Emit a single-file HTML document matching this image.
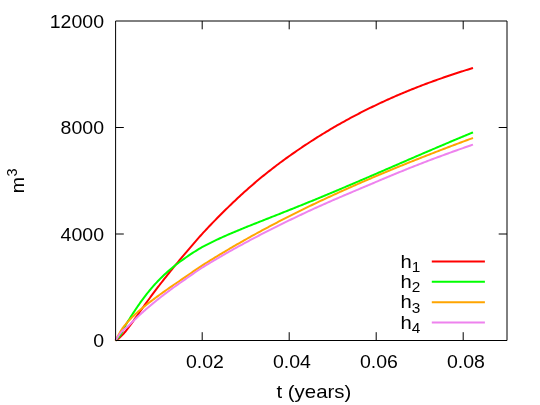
<!DOCTYPE html>
<html><head><meta charset="utf-8"><title>plot</title>
<style>
html,body{margin:0;padding:0;background:#fff;}
body{width:540px;height:405px;overflow:hidden;}
svg{display:block;}
text{font-family:"Liberation Sans",sans-serif;fill:#000;}
</style></head>
<body>
<svg width="540" height="405" viewBox="0 0 540 405">
<rect width="540" height="405" fill="#fff"/>
<g fill="none" stroke="#000" stroke-width="1">
<path d="M202.20,340.50 V332.20 M202.20,21.00 V29.30 M289.20,340.50 V332.20 M289.20,21.00 V29.30 M376.20,340.50 V332.20 M376.20,21.00 V29.30 M463.20,340.50 V332.20 M463.20,21.00 V29.30 M115.50,234.00 H123.80 M507.00,234.00 H498.70 M115.50,127.50 H123.80 M507.00,127.50 H498.70"/>
</g>
<g fill="none" stroke-width="2" stroke-linejoin="round" stroke-linecap="butt">
<path d="M115.50,340.50 L116.25,340.13 L117.00,339.68 L117.75,339.18 L118.50,338.61 L119.25,338.00 L120.00,337.34 L120.75,336.63 L121.50,335.89 L122.25,335.12 L123.00,334.31 L123.75,333.48 L124.50,332.61 L125.25,331.73 L126.00,330.82 L126.75,329.89 L127.50,328.93 L128.25,327.96 L129.00,326.97 L129.75,325.96 L130.50,324.94 L131.25,323.90 L132.00,322.86 L132.75,321.81 L133.50,320.76 L134.25,319.70 L135.00,318.64 L135.75,317.59 L136.50,316.53 L137.25,315.47 L138.00,314.41 L138.75,313.35 L139.50,312.29 L140.25,311.23 L141.00,310.18 L141.75,309.13 L142.50,308.07 L143.25,307.03 L144.00,305.98 L144.75,304.94 L145.50,303.90 L146.25,302.86 L147.00,301.83 L147.75,300.79 L148.50,299.77 L149.25,298.74 L150.00,297.72 L150.75,296.70 L151.50,295.69 L152.25,294.68 L153.00,293.67 L153.75,292.67 L154.50,291.67 L155.25,290.67 L156.00,289.68 L156.75,288.69 L157.50,287.70 L158.25,286.72 L159.00,285.74 L159.75,284.76 L160.00,284.44 L161.50,282.50 L163.00,280.57 L164.50,278.66 L166.00,276.76 L167.50,274.87 L169.00,273.00 L170.50,271.14 L172.00,269.29 L173.50,267.46 L175.00,265.63 L176.50,263.82 L178.00,262.02 L179.50,260.23 L181.00,258.45 L182.50,256.67 L184.00,254.89 L185.50,253.11 L187.00,251.33 L188.50,249.56 L190.00,247.79 L191.50,246.03 L193.00,244.28 L194.50,242.54 L196.00,240.81 L197.50,239.10 L199.00,237.40 L200.50,235.73 L202.00,234.07 L203.50,232.43 L205.00,230.82 L206.50,229.22 L208.00,227.63 L209.50,226.06 L211.00,224.49 L212.50,222.93 L214.00,221.38 L215.50,219.84 L217.00,218.31 L218.50,216.79 L220.00,215.28 L221.50,213.77 L223.00,212.28 L224.50,210.79 L226.00,209.32 L227.50,207.85 L229.00,206.39 L230.50,204.95 L232.00,203.51 L233.50,202.08 L235.00,200.66 L236.50,199.25 L238.00,197.85 L239.50,196.46 L241.00,195.08 L242.50,193.71 L244.00,192.35 L245.50,191.00 L247.00,189.66 L248.50,188.33 L250.00,187.01 L251.50,185.71 L253.00,184.41 L254.50,183.12 L256.00,181.85 L257.50,180.58 L259.00,179.33 L260.50,178.08 L262.00,176.85 L263.50,175.63 L265.00,174.41 L266.50,173.21 L268.00,172.02 L269.50,170.84 L271.00,169.67 L272.50,168.50 L274.00,167.35 L275.50,166.20 L277.00,165.07 L278.50,163.94 L280.00,162.82 L281.50,161.71 L283.00,160.61 L284.50,159.52 L286.00,158.43 L287.50,157.35 L289.00,156.28 L290.50,155.22 L292.00,154.16 L293.50,153.11 L295.00,152.07 L296.50,151.03 L298.00,150.00 L299.50,148.98 L301.00,147.96 L302.50,146.95 L304.00,145.95 L305.50,144.95 L307.00,143.96 L308.50,142.98 L310.00,142.00 L311.50,141.03 L313.00,140.07 L314.50,139.11 L316.00,138.16 L317.50,137.21 L319.00,136.27 L320.50,135.34 L322.00,134.41 L323.50,133.49 L325.00,132.58 L326.50,131.67 L328.00,130.77 L329.50,129.87 L331.00,128.98 L332.50,128.10 L334.00,127.23 L335.50,126.36 L337.00,125.49 L338.50,124.63 L340.00,123.78 L341.50,122.94 L343.00,122.10 L344.50,121.26 L346.00,120.43 L347.50,119.61 L349.00,118.80 L350.50,117.98 L352.00,117.18 L353.50,116.38 L355.00,115.59 L356.50,114.80 L358.00,114.02 L359.50,113.24 L361.00,112.47 L362.50,111.71 L364.00,110.95 L365.50,110.19 L367.00,109.44 L368.50,108.70 L370.00,107.96 L371.50,107.23 L373.00,106.50 L374.50,105.78 L376.00,105.06 L377.50,104.35 L379.00,103.64 L380.50,102.94 L382.00,102.24 L383.50,101.55 L385.00,100.87 L386.50,100.18 L388.00,99.51 L389.50,98.83 L391.00,98.17 L392.50,97.50 L394.00,96.84 L395.50,96.19 L397.00,95.54 L398.50,94.90 L400.00,94.26 L401.50,93.62 L403.00,92.99 L404.50,92.36 L406.00,91.74 L407.50,91.13 L409.00,90.51 L410.50,89.90 L412.00,89.30 L413.50,88.70 L415.00,88.10 L416.50,87.51 L418.00,86.92 L419.50,86.34 L421.00,85.76 L422.50,85.19 L424.00,84.62 L425.50,84.05 L427.00,83.49 L428.50,82.93 L430.00,82.37 L431.50,81.82 L433.00,81.27 L434.50,80.73 L436.00,80.19 L437.50,79.65 L439.00,79.12 L440.50,78.59 L442.00,78.07 L443.50,77.55 L445.00,77.03 L446.50,76.52 L448.00,76.01 L449.50,75.50 L451.00,75.00 L452.50,74.50 L454.00,74.00 L455.50,73.51 L457.00,73.02 L458.50,72.53 L460.00,72.05 L461.50,71.57 L463.00,71.10 L464.50,70.62 L466.00,70.16 L467.50,69.69 L469.00,69.23 L470.50,68.77 L472.00,68.31 L473.00,68.01" stroke="#ff0000"/>
<path d="M115.50,340.67 L116.25,339.75 L117.00,338.91 L117.75,338.14 L118.50,337.40 L119.25,336.62 L120.00,335.71 L120.75,334.59 L121.50,333.25 L122.25,331.75 L123.00,330.18 L123.75,328.64 L124.50,327.17 L125.25,325.79 L126.00,324.50 L126.75,323.26 L127.50,322.05 L128.25,320.86 L129.00,319.68 L129.75,318.49 L130.50,317.30 L131.25,316.12 L132.00,314.94 L132.75,313.78 L133.50,312.62 L134.25,311.48 L135.00,310.34 L135.75,309.21 L136.50,308.10 L137.25,306.99 L138.00,305.90 L138.75,304.82 L139.50,303.75 L140.25,302.69 L141.00,301.64 L141.75,300.61 L142.50,299.58 L143.25,298.57 L144.00,297.57 L144.75,296.58 L145.50,295.61 L146.25,294.64 L147.00,293.69 L147.75,292.75 L148.50,291.82 L149.25,290.90 L150.00,289.99 L150.75,289.10 L151.50,288.21 L152.25,287.34 L153.00,286.47 L153.75,285.62 L154.50,284.78 L155.25,283.95 L156.00,283.13 L156.75,282.32 L157.50,281.52 L158.25,280.73 L159.00,279.96 L159.75,279.19 L160.00,278.93 L161.50,277.43 L163.00,275.97 L164.50,274.54 L166.00,273.15 L167.50,271.79 L169.00,270.47 L170.50,269.18 L172.00,267.92 L173.50,266.69 L175.00,265.49 L176.50,264.32 L178.00,263.18 L179.50,262.06 L181.00,260.97 L182.50,259.89 L184.00,258.82 L185.50,257.76 L187.00,256.72 L188.50,255.69 L190.00,254.67 L191.50,253.67 L193.00,252.69 L194.50,251.73 L196.00,250.79 L197.50,249.87 L199.00,248.97 L200.50,248.09 L202.00,247.24 L203.50,246.41 L205.00,245.61 L206.50,244.83 L208.00,244.06 L209.50,243.31 L211.00,242.56 L212.50,241.82 L214.00,241.10 L215.50,240.38 L217.00,239.67 L218.50,238.97 L220.00,238.28 L221.50,237.60 L223.00,236.92 L224.50,236.25 L226.00,235.59 L227.50,234.93 L229.00,234.28 L230.50,233.64 L232.00,233.00 L233.50,232.36 L235.00,231.73 L236.50,231.10 L238.00,230.48 L239.50,229.85 L241.00,229.24 L242.50,228.62 L244.00,228.01 L245.50,227.40 L247.00,226.80 L248.50,226.19 L250.00,225.59 L251.50,224.99 L253.00,224.39 L254.50,223.79 L256.00,223.20 L257.50,222.60 L259.00,222.01 L260.50,221.41 L262.00,220.82 L263.50,220.23 L265.00,219.64 L266.50,219.05 L268.00,218.46 L269.50,217.86 L271.00,217.27 L272.50,216.68 L274.00,216.09 L275.50,215.50 L277.00,214.91 L278.50,214.31 L280.00,213.72 L281.50,213.13 L283.00,212.53 L284.50,211.94 L286.00,211.34 L287.50,210.75 L289.00,210.15 L290.50,209.55 L292.00,208.95 L293.50,208.35 L295.00,207.75 L296.50,207.15 L298.00,206.55 L299.50,205.94 L301.00,205.34 L302.50,204.73 L304.00,204.13 L305.50,203.52 L307.00,202.91 L308.50,202.30 L310.00,201.69 L311.50,201.07 L313.00,200.46 L314.50,199.84 L316.00,199.23 L317.50,198.61 L319.00,197.99 L320.50,197.37 L322.00,196.75 L323.50,196.13 L325.00,195.51 L326.50,194.88 L328.00,194.26 L329.50,193.63 L331.00,193.01 L332.50,192.38 L334.00,191.75 L335.50,191.12 L337.00,190.49 L338.50,189.86 L340.00,189.22 L341.50,188.59 L343.00,187.95 L344.50,187.32 L346.00,186.68 L347.50,186.04 L349.00,185.41 L350.50,184.77 L352.00,184.13 L353.50,183.49 L355.00,182.85 L356.50,182.20 L358.00,181.56 L359.50,180.92 L361.00,180.27 L362.50,179.63 L364.00,178.99 L365.50,178.34 L367.00,177.69 L368.50,177.05 L370.00,176.40 L371.50,175.75 L373.00,175.11 L374.50,174.46 L376.00,173.81 L377.50,173.16 L379.00,172.51 L380.50,171.86 L382.00,171.21 L383.50,170.56 L385.00,169.91 L386.50,169.26 L388.00,168.61 L389.50,167.96 L391.00,167.31 L392.50,166.66 L394.00,166.01 L395.50,165.36 L397.00,164.71 L398.50,164.06 L400.00,163.41 L401.50,162.76 L403.00,162.11 L404.50,161.46 L406.00,160.81 L407.50,160.16 L409.00,159.51 L410.50,158.87 L412.00,158.22 L413.50,157.57 L415.00,156.92 L416.50,156.27 L418.00,155.63 L419.50,154.98 L421.00,154.34 L422.50,153.69 L424.00,153.04 L425.50,152.40 L427.00,151.76 L428.50,151.11 L430.00,150.47 L431.50,149.83 L433.00,149.19 L434.50,148.55 L436.00,147.90 L437.50,147.27 L439.00,146.63 L440.50,145.99 L442.00,145.35 L443.50,144.71 L445.00,144.08 L446.50,143.44 L448.00,142.81 L449.50,142.18 L451.00,141.54 L452.50,140.91 L454.00,140.28 L455.50,139.65 L457.00,139.02 L458.50,138.40 L460.00,137.77 L461.50,137.14 L463.00,136.52 L464.50,135.89 L466.00,135.27 L467.50,134.65 L469.00,134.03 L470.50,133.41 L472.00,132.79 L473.00,132.38" stroke="#00ff00"/>
<path d="M115.50,340.62 L116.25,339.09 L117.00,337.68 L117.75,336.34 L118.50,335.02 L119.25,333.68 L120.00,332.34 L120.75,331.04 L121.50,329.82 L122.25,328.69 L123.00,327.63 L123.75,326.63 L124.50,325.68 L125.25,324.76 L126.00,323.87 L126.75,323.01 L127.50,322.16 L128.25,321.34 L129.00,320.53 L129.75,319.73 L130.50,318.94 L131.25,318.16 L132.00,317.40 L132.75,316.66 L133.50,315.92 L134.25,315.21 L135.00,314.50 L135.75,313.80 L136.50,313.12 L137.25,312.44 L138.00,311.78 L138.75,311.12 L139.50,310.47 L140.25,309.83 L141.00,309.19 L141.75,308.57 L142.50,307.94 L143.25,307.33 L144.00,306.72 L144.75,306.11 L145.50,305.51 L146.25,304.91 L147.00,304.32 L147.75,303.73 L148.50,303.14 L149.25,302.56 L150.00,301.98 L150.75,301.41 L151.50,300.84 L152.25,300.27 L153.00,299.70 L153.75,299.14 L154.50,298.58 L155.25,298.02 L156.00,297.47 L156.75,296.92 L157.50,296.36 L158.25,295.82 L159.00,295.27 L159.75,294.73 L160.00,294.54 L161.50,293.46 L163.00,292.39 L164.50,291.32 L166.00,290.26 L167.50,289.20 L169.00,288.15 L170.50,287.11 L172.00,286.07 L173.50,285.04 L175.00,284.01 L176.50,282.99 L178.00,281.97 L179.50,280.96 L181.00,279.95 L182.50,278.93 L184.00,277.90 L185.50,276.87 L187.00,275.83 L188.50,274.79 L190.00,273.75 L191.50,272.71 L193.00,271.67 L194.50,270.64 L196.00,269.61 L197.50,268.60 L199.00,267.59 L200.50,266.59 L202.00,265.61 L203.50,264.64 L205.00,263.69 L206.50,262.75 L208.00,261.82 L209.50,260.89 L211.00,259.96 L212.50,259.04 L214.00,258.11 L215.50,257.20 L217.00,256.28 L218.50,255.37 L220.00,254.47 L221.50,253.57 L223.00,252.67 L224.50,251.77 L226.00,250.88 L227.50,249.99 L229.00,249.11 L230.50,248.23 L232.00,247.35 L233.50,246.47 L235.00,245.60 L236.50,244.73 L238.00,243.87 L239.50,243.01 L241.00,242.15 L242.50,241.30 L244.00,240.44 L245.50,239.60 L247.00,238.75 L248.50,237.91 L250.00,237.07 L251.50,236.24 L253.00,235.41 L254.50,234.58 L256.00,233.75 L257.50,232.93 L259.00,232.11 L260.50,231.29 L262.00,230.48 L263.50,229.67 L265.00,228.86 L266.50,228.06 L268.00,227.26 L269.50,226.46 L271.00,225.67 L272.50,224.87 L274.00,224.08 L275.50,223.30 L277.00,222.51 L278.50,221.73 L280.00,220.96 L281.50,220.18 L283.00,219.41 L284.50,218.64 L286.00,217.87 L287.50,217.11 L289.00,216.35 L290.50,215.59 L292.00,214.83 L293.50,214.08 L295.00,213.33 L296.50,212.58 L298.00,211.84 L299.50,211.09 L301.00,210.35 L302.50,209.61 L304.00,208.88 L305.50,208.15 L307.00,207.42 L308.50,206.69 L310.00,205.96 L311.50,205.24 L313.00,204.52 L314.50,203.80 L316.00,203.08 L317.50,202.37 L319.00,201.66 L320.50,200.95 L322.00,200.24 L323.50,199.54 L325.00,198.83 L326.50,198.13 L328.00,197.44 L329.50,196.74 L331.00,196.05 L332.50,195.36 L334.00,194.67 L335.50,193.98 L337.00,193.29 L338.50,192.61 L340.00,191.93 L341.50,191.25 L343.00,190.57 L344.50,189.90 L346.00,189.23 L347.50,188.55 L349.00,187.88 L350.50,187.22 L352.00,186.55 L353.50,185.89 L355.00,185.23 L356.50,184.57 L358.00,183.91 L359.50,183.25 L361.00,182.60 L362.50,181.95 L364.00,181.30 L365.50,180.65 L367.00,180.00 L368.50,179.35 L370.00,178.71 L371.50,178.07 L373.00,177.43 L374.50,176.79 L376.00,176.15 L377.50,175.52 L379.00,174.89 L380.50,174.25 L382.00,173.62 L383.50,172.99 L385.00,172.37 L386.50,171.74 L388.00,171.12 L389.50,170.50 L391.00,169.87 L392.50,169.25 L394.00,168.64 L395.50,168.02 L397.00,167.41 L398.50,166.79 L400.00,166.18 L401.50,165.57 L403.00,164.96 L404.50,164.35 L406.00,163.75 L407.50,163.14 L409.00,162.54 L410.50,161.94 L412.00,161.34 L413.50,160.74 L415.00,160.14 L416.50,159.54 L418.00,158.95 L419.50,158.35 L421.00,157.76 L422.50,157.17 L424.00,156.58 L425.50,155.99 L427.00,155.40 L428.50,154.82 L430.00,154.23 L431.50,153.65 L433.00,153.06 L434.50,152.48 L436.00,151.90 L437.50,151.32 L439.00,150.75 L440.50,150.17 L442.00,149.59 L443.50,149.02 L445.00,148.45 L446.50,147.88 L448.00,147.30 L449.50,146.73 L451.00,146.17 L452.50,145.60 L454.00,145.03 L455.50,144.47 L457.00,143.90 L458.50,143.34 L460.00,142.78 L461.50,142.22 L463.00,141.66 L464.50,141.10 L466.00,140.54 L467.50,139.98 L469.00,139.43 L470.50,138.87 L472.00,138.32 L473.00,137.95" stroke="#ffa500"/>
<path d="M115.50,340.29 L116.25,339.16 L117.00,338.03 L117.75,336.90 L118.50,335.80 L119.25,334.72 L120.00,333.70 L120.75,332.74 L121.50,331.87 L122.25,331.08 L123.00,330.36 L123.75,329.71 L124.50,329.10 L125.25,328.50 L126.00,327.90 L126.75,327.27 L127.50,326.62 L128.25,325.95 L129.00,325.25 L129.75,324.52 L130.50,323.79 L131.25,323.04 L132.00,322.30 L132.75,321.56 L133.50,320.83 L134.25,320.10 L135.00,319.37 L135.75,318.66 L136.50,317.94 L137.25,317.24 L138.00,316.53 L138.75,315.84 L139.50,315.14 L140.25,314.46 L141.00,313.77 L141.75,313.09 L142.50,312.42 L143.25,311.75 L144.00,311.08 L144.75,310.42 L145.50,309.76 L146.25,309.11 L147.00,308.46 L147.75,307.81 L148.50,307.17 L149.25,306.53 L150.00,305.89 L150.75,305.26 L151.50,304.63 L152.25,304.01 L153.00,303.39 L153.75,302.77 L154.50,302.15 L155.25,301.54 L156.00,300.93 L156.75,300.33 L157.50,299.73 L158.25,299.13 L159.00,298.53 L159.75,297.94 L160.00,297.74 L161.50,296.57 L163.00,295.40 L164.50,294.25 L166.00,293.11 L167.50,291.98 L169.00,290.86 L170.50,289.75 L172.00,288.65 L173.50,287.56 L175.00,286.48 L176.50,285.41 L178.00,284.35 L179.50,283.30 L181.00,282.25 L182.50,281.20 L184.00,280.14 L185.50,279.08 L187.00,278.03 L188.50,276.97 L190.00,275.92 L191.50,274.87 L193.00,273.82 L194.50,272.79 L196.00,271.76 L197.50,270.74 L199.00,269.74 L200.50,268.75 L202.00,267.78 L203.50,266.82 L205.00,265.89 L206.50,264.96 L208.00,264.05 L209.50,263.14 L211.00,262.23 L212.50,261.33 L214.00,260.43 L215.50,259.54 L217.00,258.66 L218.50,257.78 L220.00,256.90 L221.50,256.03 L223.00,255.16 L224.50,254.30 L226.00,253.44 L227.50,252.59 L229.00,251.74 L230.50,250.89 L232.00,250.05 L233.50,249.21 L235.00,248.38 L236.50,247.55 L238.00,246.72 L239.50,245.90 L241.00,245.08 L242.50,244.27 L244.00,243.46 L245.50,242.65 L247.00,241.84 L248.50,241.04 L250.00,240.24 L251.50,239.44 L253.00,238.65 L254.50,237.86 L256.00,237.08 L257.50,236.29 L259.00,235.51 L260.50,234.73 L262.00,233.96 L263.50,233.19 L265.00,232.42 L266.50,231.65 L268.00,230.88 L269.50,230.12 L271.00,229.36 L272.50,228.61 L274.00,227.85 L275.50,227.10 L277.00,226.35 L278.50,225.61 L280.00,224.86 L281.50,224.12 L283.00,223.38 L284.50,222.65 L286.00,221.91 L287.50,221.18 L289.00,220.45 L290.50,219.73 L292.00,219.00 L293.50,218.28 L295.00,217.57 L296.50,216.85 L298.00,216.14 L299.50,215.42 L301.00,214.72 L302.50,214.01 L304.00,213.31 L305.50,212.61 L307.00,211.91 L308.50,211.21 L310.00,210.52 L311.50,209.83 L313.00,209.14 L314.50,208.46 L316.00,207.78 L317.50,207.10 L319.00,206.42 L320.50,205.75 L322.00,205.08 L323.50,204.41 L325.00,203.74 L326.50,203.08 L328.00,202.42 L329.50,201.76 L331.00,201.10 L332.50,200.45 L334.00,199.79 L335.50,199.14 L337.00,198.50 L338.50,197.85 L340.00,197.20 L341.50,196.56 L343.00,195.92 L344.50,195.28 L346.00,194.64 L347.50,194.00 L349.00,193.36 L350.50,192.73 L352.00,192.09 L353.50,191.45 L355.00,190.82 L356.50,190.18 L358.00,189.55 L359.50,188.91 L361.00,188.28 L362.50,187.65 L364.00,187.01 L365.50,186.38 L367.00,185.74 L368.50,185.11 L370.00,184.48 L371.50,183.84 L373.00,183.21 L374.50,182.58 L376.00,181.94 L377.50,181.31 L379.00,180.68 L380.50,180.04 L382.00,179.41 L383.50,178.78 L385.00,178.15 L386.50,177.52 L388.00,176.90 L389.50,176.27 L391.00,175.65 L392.50,175.02 L394.00,174.40 L395.50,173.78 L397.00,173.16 L398.50,172.55 L400.00,171.93 L401.50,171.32 L403.00,170.71 L404.50,170.10 L406.00,169.49 L407.50,168.89 L409.00,168.29 L410.50,167.69 L412.00,167.09 L413.50,166.50 L415.00,165.91 L416.50,165.32 L418.00,164.73 L419.50,164.15 L421.00,163.56 L422.50,162.98 L424.00,162.41 L425.50,161.83 L427.00,161.26 L428.50,160.69 L430.00,160.12 L431.50,159.55 L433.00,158.98 L434.50,158.42 L436.00,157.86 L437.50,157.30 L439.00,156.74 L440.50,156.19 L442.00,155.63 L443.50,155.08 L445.00,154.53 L446.50,153.99 L448.00,153.44 L449.50,152.89 L451.00,152.35 L452.50,151.81 L454.00,151.27 L455.50,150.73 L457.00,150.20 L458.50,149.66 L460.00,149.13 L461.50,148.60 L463.00,148.07 L464.50,147.54 L466.00,147.01 L467.50,146.49 L469.00,145.96 L470.50,145.44 L472.00,144.92 L473.00,144.58" stroke="#ee82ee"/>
<path d="M431.8,261.50 H484.9" stroke="#ff0000"/>
<path d="M431.8,281.85 H484.9" stroke="#00ff00"/>
<path d="M431.8,302.15 H484.9" stroke="#ffa500"/>
<path d="M431.8,322.50 H484.9" stroke="#ee82ee"/>
</g>
<g fill="none" stroke="#000" stroke-width="1" stroke-linejoin="miter">
<path d="M115.60,21.00 H507.00 V340.50 H115.60 Z"/>
</g>
<g style="will-change:transform;opacity:0.999">
<text transform="translate(104.00,347.10) scale(1.030,1)" text-anchor="end" font-size="18.95">0</text>
<text transform="translate(104.00,240.80) scale(1.030,1)" text-anchor="end" font-size="18.95">4000</text>
<text transform="translate(104.00,134.10) scale(1.030,1)" text-anchor="end" font-size="18.95">8000</text>
<text transform="translate(104.00,27.80) scale(1.030,1)" text-anchor="end" font-size="18.95">12000</text>
<text transform="translate(204.90,367.80) scale(1.030,1)" text-anchor="middle" font-size="18.95">0.02</text>
<text transform="translate(291.90,367.80) scale(1.030,1)" text-anchor="middle" font-size="18.95">0.04</text>
<text transform="translate(378.90,367.80) scale(1.030,1)" text-anchor="middle" font-size="18.95">0.06</text>
<text transform="translate(465.90,367.80) scale(1.030,1)" text-anchor="middle" font-size="18.95">0.08</text>
<text transform="translate(313.90,397.80) scale(1.078,1)" text-anchor="middle" font-size="18.95">t (years)</text>
<text transform="translate(23.90,193.30) rotate(-90) scale(1.030,1)" text-anchor="start" font-size="18.95">m</text>
<text transform="translate(17.20,176.40) rotate(-90) scale(0.950,1)" text-anchor="start" font-size="15.30">3</text>
<text transform="translate(400.60,267.90) scale(1.070,1)" text-anchor="start" font-size="18.95">h</text>
<text transform="translate(411.85,271.90) scale(1.020,1)" text-anchor="start" font-size="15.10">1</text>
<text transform="translate(400.60,288.10) scale(1.070,1)" text-anchor="start" font-size="18.95">h</text>
<text transform="translate(411.85,292.10) scale(1.020,1)" text-anchor="start" font-size="15.10">2</text>
<text transform="translate(400.60,308.20) scale(1.070,1)" text-anchor="start" font-size="18.95">h</text>
<text transform="translate(411.85,312.80) scale(1.020,1)" text-anchor="start" font-size="15.10">3</text>
<text transform="translate(400.60,328.90) scale(1.070,1)" text-anchor="start" font-size="18.95">h</text>
<text transform="translate(411.85,332.90) scale(1.020,1)" text-anchor="start" font-size="15.10">4</text>
</g>
</svg>
</body></html>
